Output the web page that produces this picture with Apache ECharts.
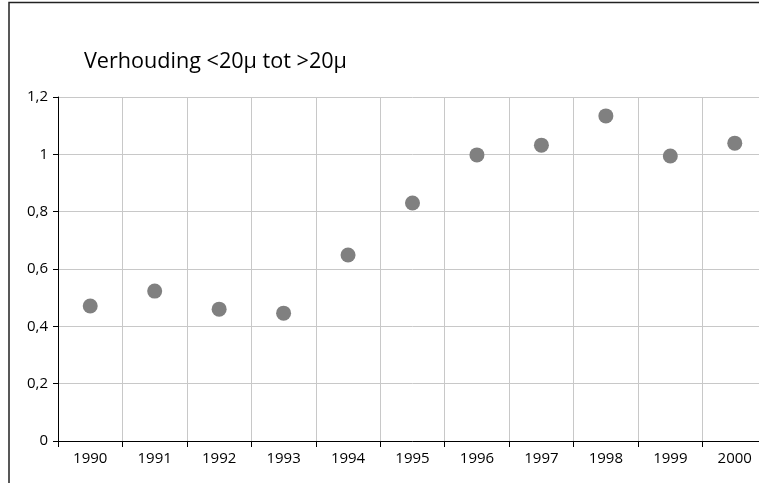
<!DOCTYPE html>
<html><head><meta charset="utf-8">
<script src="https://cdn.jsdelivr.net/npm/echarts@6/dist/echarts.min.js"></script>
<style>html,body{margin:0;padding:0;background:#fff;overflow:hidden}#wrap{width:759px;height:483px;overflow:hidden;position:relative}#c{width:800px;height:483px;position:absolute;left:0;top:0}</style>
</head><body><div id="wrap"><div id="c"></div></div>
<script>
const years = ['1990','1991','1992','1993','1994','1995','1996','1997','1998','1999','2000'];
const ratio = [0.471, 0.523, 0.460, 0.446, 0.649, 0.830, 0.998, 1.032, 1.134, 0.994, 1.039];
const yTicks = [0, 0.2, 0.4, 0.6, 0.8, 1.0, 1.2];
const titleText = 'Verhouding <20μ tot >20μ';

const chart = echarts.init(document.getElementById('c'), null, {renderer:'canvas'});
const font = 'Open Sans';
chart.setOption({
  animation: false,
  backgroundColor: '#fff',
  title: {text: titleText, left: 79, top: 46,
    textStyle: {fontFamily: font, fontSize: 21.6, fontWeight: 'normal', color: '#000'}},
  graphic: [{type:'polyline', shape:{points: [[9, 600], [9, 2.5], [900, 2.5]]},
    style:{fill:'none', stroke:'#222', lineWidth: 1.5}, silent: true}],
  grid: {left: 58, top: 97, width: 709, height: 344},
  xAxis: {
    type: 'category', data: years, boundaryGap: true,
    axisLine: {lineStyle: {color: '#000', width: 1}},
    axisTick: {show: true, length: 6, lineStyle: {color: '#000'}},
    axisLabel: {fontFamily: font, fontSize: 15, color: '#000', margin: 10},
    splitLine: {show: true, lineStyle: {color: '#c8c8c8', width: 1}}
  },
  yAxis: {
    type: 'value', min: 0, max: 1.2, interval: 0.2,
    axisLine: {show: true, lineStyle: {color: '#000', width: 1}},
    axisTick: {show: true, length: 5, lineStyle: {color: '#000'}},
    axisLabel: {fontFamily: font, fontSize: 15, color: '#000', margin: 10,
      formatter: v => {
        const t = yTicks.find(x => Math.abs(x - v) < 1e-6);
        if (t === undefined) return '';
        return (Math.round(t*10)/10).toString().replace('.', ',');
      }},
    splitLine: {show: true, lineStyle: {color: '#c8c8c8', width: 1}}
  },
  series: [{
    type: 'scatter', data: ratio, symbol: 'circle', symbolSize: 15,
    itemStyle: {color: '#808080', opacity: 1}
  }]
});
</script></body></html>
